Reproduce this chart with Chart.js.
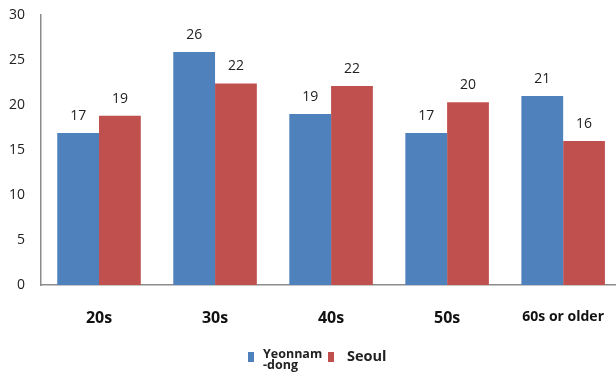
<!DOCTYPE html>
<html>
<head>
<meta charset="utf-8">
<script src="https://cdn.jsdelivr.net/npm/chart.js@4/dist/chart.umd.min.js"></script>
<style>
    html, body { margin: 0; padding: 0; background: #fff; overflow: hidden; }
    #wrap { position: relative; width: 628px; height: 372px; }
    #legend { position: absolute; left: 248px; top: 349px; font-family: 'Open Sans', sans-serif; font-weight: bold; color: #222; }
    .lg-item { position: absolute; white-space: nowrap; }
    .lg-box { position: absolute; width: 6px; height: 10px; top: 3px; }
    .lg-text { position: absolute; left: 15px; top: 0; }
</style>
</head>
<body>
<div id="wrap">
    <canvas id="ageChart" width="628" height="372"></canvas>
    <div id="legend">
        <div class="lg-item" style="left:0px;">
            <div class="lg-box" style="background:#4F81BD;"></div>
            <div class="lg-text" style="font-size:12.5px; line-height:11px; top:-1px;">Yeonnam<br>-dong</div>
        </div>
        <div class="lg-item" style="left:80px;">
            <div class="lg-box" style="background:#C0504D;"></div>
            <div class="lg-text" style="font-size:14.5px; line-height:14px; left:19px; top:0px;">Seoul</div>
        </div>
    </div>
</div>
<script>
const ageGroups = ['20s', '30s', '40s', '50s', '60s or older'];
const yeonnamValues = [16.9, 25.9, 19.0, 16.9, 21.0];
const seoulValues = [18.8, 22.4, 22.1, 20.3, 16.0];
const yTicks = [0, 5, 10, 15, 20, 25, 30];

// etichette sopra le barre
const barLabels = {
    id: 'barLabels',
    afterDatasetsDraw(chart) {
        const ctx = chart.ctx;
        ctx.save();
        ctx.font = "14px 'Open Sans', sans-serif";
        ctx.fillStyle = '#222';
        ctx.textAlign = 'center';
        ctx.textBaseline = 'alphabetic';
        chart.data.datasets.forEach((ds, i) => {
            chart.getDatasetMeta(i).data.forEach((bar, j) => {
                ctx.fillText(Math.round(ds.data[j]), bar.x, bar.y - 13);
            });
        });
        ctx.restore();
    }
};

new Chart(document.getElementById('ageChart'), {
    type: 'bar',
    data: {
        labels: ageGroups,
        datasets: [
            { label: 'Yeonnam -dong', data: yeonnamValues, backgroundColor: '#4F81BD' },
            { label: 'Seoul', data: seoulValues, backgroundColor: '#C0504D' }
        ]
    },
    options: {
        responsive: false,
        animation: false,
        layout: { padding: { top: 15, left: 0, right: 0, bottom: 0 } },
        plugins: { legend: { display: false }, tooltip: { enabled: false } },
        datasets: { bar: { categoryPercentage: 0.72, barPercentage: 1 } },
        scales: {
            x: {
                grid: { display: false, drawTicks: false },
                border: { color: '#8c8c8c', width: 1.5 },
                ticks: {
                    padding: 24,
                    color: '#111',
                    font: (c) => c.index === 4
                        ? { family: "'Open Sans', sans-serif", size: 14, weight: 'bold' }
                        : { family: "'Open Sans', sans-serif", size: 16, weight: 'bold' }
                },
                afterFit: (s) => { s.height = 87; }
            },
            y: {
                min: 0,
                max: 30,
                afterBuildTicks: (s) => { s.ticks = yTicks.map(v => ({ value: v })); },
                grid: { display: false, drawTicks: false },
                border: { color: '#8c8c8c', width: 1.5 },
                ticks: {
                    padding: 16,
                    color: '#222',
                    font: { family: "'Open Sans', sans-serif", size: 14 }
                },
                afterFit: (s) => {
                    s.width = 41;
                    s.paddingTop = 0;
                    s.paddingBottom = 0;
                }
            }
        }
    },
    plugins: [barLabels]
});
</script>
</body>
</html>
